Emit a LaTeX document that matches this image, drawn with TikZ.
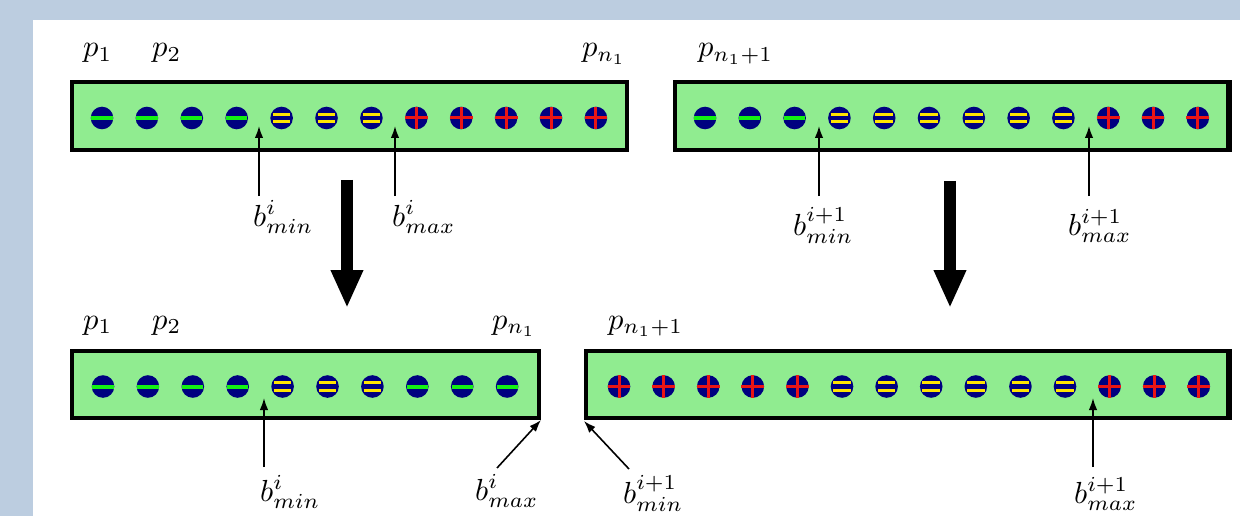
\documentclass[tikz,border=0pt]{standalone}
\usetikzlibrary{arrows.meta}

\definecolor{bgblue}{RGB}{188,205,224}
\definecolor{bucketgreen}{RGB}{144,236,144}
\definecolor{ballnavy}{RGB}{0,0,128}
\definecolor{barlime}{RGB}{20,240,20}
\definecolor{baryellow}{RGB}{255,228,0}
\definecolor{barred}{RGB}{235,20,20}

% math label enlarged to the size of the figure
\newcommand\bigmath[1]{\scalebox{3.05}{$#1$}}

\tikzset{
  bucket/.style={draw=black, fill=bucketgreen, line width=3.2pt},
  bigarrow/.style={line width=12pt, -{Triangle[length=38pt,width=30pt]}},
  ptr/.style={line width=1.6pt, -{Latex[length=12pt,width=8.5pt]}},
  lbl/.style={inner sep=0pt, anchor=base west},
  % one particle: -1 = minus, 0 = equal, 1 = plus
  pics/ball/.style={code={
    \fill[ballnavy] (0,0) circle (11.3pt);
    \ifnum#1<0
      \draw[barlime, line width=4pt] (-10.6,0) -- (10.6,0);
    \fi
    \ifnum#1=0
      \draw[baryellow, line width=3pt] (-8.8,-3.9) -- (8.8,-3.9);
      \draw[baryellow, line width=3pt] (-8.8,3.9) -- (8.8,3.9);
    \fi
    \ifnum#1>0
      \draw[barred, line width=3pt] (-11.4,0) -- (11.4,0);
      \draw[barred, line width=3pt] (0,-11.4) -- (0,11.4);
    \fi
  }}
}

\begin{document}
\begin{tikzpicture}[x=1pt, y=-1pt]
  \useasboundingbox (0,0) rectangle (1240,516);
  \fill[bgblue] (0,0) rectangle (1240,516);
  \fill[white] (33,20) rectangle (1240,516);

  % ---- upper row: buckets before the exchange ----
  \draw[bucket] (72,82) rectangle (627,150);
  \draw[bucket] (675,82) rectangle (1228,150);
  \draw[line width=5.5pt] (1229,80.4) -- (1229,151.6);

  \foreach \t [count=\i from 0] in {-1,-1,-1,-1,0,0,0,1,1,1,1,1}
    \pic at (102+\i*44.9,118) {ball=\t};
  \foreach \t [count=\i from 0] in {-1,-1,-1,0,0,0,0,0,0,1,1,1}
    \pic at (705+\i*44.8,118) {ball=\t};

  \node[lbl] (p1a) at (83,57) {\bigmath{p_1}};
  \node[lbl] (p2a) at (152,57) {\bigmath{p_2}};
  \node[lbl] (pna) at (582,57) {\bigmath{p_{n_1}}};
  \node[lbl] (pnna) at (698,57) {\bigmath{p_{n_1+1}}};

  \coordinate (tminA) at (259,196);  \coordinate (hminA) at (259,126);
  \coordinate (tmaxA) at (395,196);  \coordinate (hmaxA) at (395,126);
  \coordinate (tminB) at (819,196);  \coordinate (hminB) at (819,126);
  \coordinate (tmaxB) at (1089,196); \coordinate (hmaxB) at (1089,126);
  \draw[ptr] (tminA) -- (hminA);
  \draw[ptr] (tmaxA) -- (hmaxA);
  \draw[ptr] (tminB) -- (hminB);
  \draw[ptr] (tmaxB) -- (hmaxB);

  \node[lbl] (bminA) at (253,226) {\bigmath{b^i_{min}}};
  \node[lbl] (bmaxA) at (392,226) {\bigmath{b^i_{max}}};
  \node[lbl] (bminB) at (793,235) {\bigmath{b^{i+1}_{min}}};
  \node[lbl] (bmaxB) at (1068,235) {\bigmath{b^{i+1}_{max}}};

  % ---- transition arrows ----
  \coordinate (sL) at (347,180); \coordinate (eL) at (347,308);
  \coordinate (sR) at (950,181); \coordinate (eR) at (950,308);
  \draw[bigarrow] (sL) -- (eL);
  \draw[bigarrow] (sR) -- (eR);

  % ---- lower row: buckets after the exchange ----
  \draw[bucket] (72,351) rectangle (539,418);
  \draw[bucket] (586,351) rectangle (1228,418);
  \draw[line width=5.5pt] (1229,349.4) -- (1229,419.6);

  \foreach \t [count=\i from 0] in {-1,-1,-1,-1,0,0,0,-1,-1,-1}
    \pic at (103+\i*44.9,386.5) {ball=\t};
  \foreach \t [count=\i from 0] in {1,1,1,1,1,0,0,0,0,0,0,1,1,1}
    \pic at (619+\i*44.6,386.5) {ball=\t};

  \node[lbl] (p1b) at (83,329) {\bigmath{p_1}};
  \node[lbl] (p2b) at (152,329) {\bigmath{p_2}};
  \node[lbl] (pnb) at (492,329) {\bigmath{p_{n_1}}};
  \node[lbl] (pnnb) at (608,329) {\bigmath{p_{n_1+1}}};

  \coordinate (tminC) at (264,467);  \coordinate (hminC) at (264,398);
  \coordinate (tmaxC) at (497,468);  \coordinate (hmaxC) at (541,420);
  \coordinate (tminD) at (629,469);  \coordinate (hminD) at (584,421);
  \coordinate (tmaxD) at (1093,467); \coordinate (hmaxD) at (1093,398);
  \draw[ptr] (tminC) -- (hminC);
  \draw[ptr] (tmaxC) -- (hmaxC);
  \draw[ptr] (tminD) -- (hminD);
  \draw[ptr] (tmaxD) -- (hmaxD);

  \node[lbl] (bminC) at (260,501) {\bigmath{b^i_{min}}};
  \node[lbl] (bmaxC) at (475,500) {\bigmath{b^i_{max}}};
  \node[lbl] (bminD) at (623,503) {\bigmath{b^{i+1}_{min}}};
  \node[lbl] (bmaxD) at (1074,503) {\bigmath{b^{i+1}_{max}}};
\end{tikzpicture}
\end{document}
